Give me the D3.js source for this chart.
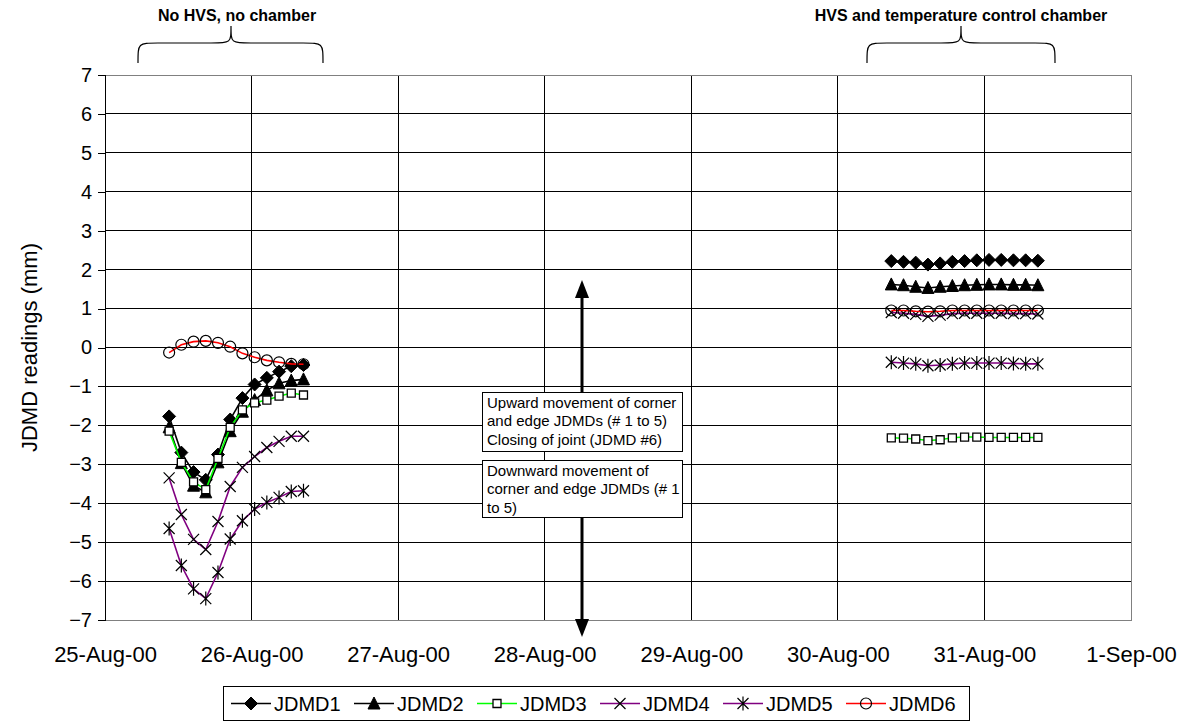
<!DOCTYPE html>
<html><head><meta charset="utf-8">
<script src="https://cdn.jsdelivr.net/npm/d3@7"></script>
<style>body{margin:0;background:#fff} svg{display:block;font-family:Arial,"Liberation Sans",sans-serif}</style>
</head><body><svg id="c" width="1186" height="721"></svg>
<script>
// ---------- data ----------
const tickDates = ["2000-08-25","2000-08-26","2000-08-27","2000-08-28","2000-08-29","2000-08-30","2000-08-31","2000-09-01"];
const tickLabels = ["25-Aug-00","26-Aug-00","27-Aug-00","28-Aug-00","29-Aug-00","30-Aug-00","31-Aug-00","1-Sep-00"];
const yTicks = [-7,-6,-5,-4,-3,-2,-1,0,1,2,3,4,5,6,7];
const leftTimes = ["2000-08-25 10:30","2000-08-25 12:30","2000-08-25 14:30","2000-08-25 16:30","2000-08-25 18:30","2000-08-25 20:30",
                   "2000-08-25 22:30","2000-08-26 00:30","2000-08-26 02:30","2000-08-26 04:30","2000-08-26 06:30","2000-08-26 08:30"];
const rightTimes = ["2000-08-30 08:45","2000-08-30 10:45","2000-08-30 12:45","2000-08-30 14:45","2000-08-30 16:45","2000-08-30 18:45",
                    "2000-08-30 20:45","2000-08-30 22:45","2000-08-31 00:45","2000-08-31 02:45","2000-08-31 04:45","2000-08-31 06:45","2000-08-31 08:45"];
const seriesNames = ["JDMD1","JDMD2","JDMD3","JDMD4","JDMD5","JDMD6"];
const jdmd1Left  = [-1.77,-2.7,-3.2,-3.4,-2.75,-1.85,-1.3,-0.95,-0.78,-0.62,-0.48,-0.45];
const jdmd2Left  = [-2.05,-2.97,-3.55,-3.72,-2.95,-2.15,-1.65,-1.35,-1.1,-0.92,-0.85,-0.82];
const jdmd3Left  = [-2.15,-2.95,-3.45,-3.65,-2.85,-2.05,-1.6,-1.42,-1.35,-1.25,-1.17,-1.22];
const jdmd4Left  = [-3.35,-4.29,-4.93,-5.19,-4.47,-3.57,-3.08,-2.8,-2.57,-2.41,-2.28,-2.28];
const jdmd5Left  = [-4.65,-5.6,-6.2,-6.45,-5.78,-4.92,-4.45,-4.15,-3.98,-3.85,-3.7,-3.68];
const jdmd6Left  = [-0.13,0.07,0.15,0.17,0.12,0.02,-0.15,-0.25,-0.33,-0.38,-0.42,-0.43];
const jdmd1Right = [2.22,2.2,2.18,2.13,2.16,2.2,2.22,2.24,2.25,2.25,2.24,2.24,2.23];
const jdmd2Right = [1.62,1.6,1.56,1.53,1.56,1.58,1.6,1.61,1.62,1.62,1.61,1.61,1.6];
const jdmd3Right = [-2.32,-2.33,-2.35,-2.39,-2.37,-2.32,-2.3,-2.3,-2.31,-2.31,-2.31,-2.31,-2.31];
const jdmd4Right = [0.9,0.88,0.85,0.8,0.83,0.87,0.88,0.88,0.88,0.88,0.87,0.87,0.86];
const jdmd5Right = [-0.38,-0.4,-0.42,-0.47,-0.45,-0.42,-0.4,-0.4,-0.4,-0.4,-0.41,-0.42,-0.42];
const jdmd6Right = [0.95,0.95,0.93,0.92,0.93,0.95,0.95,0.95,0.95,0.95,0.95,0.95,0.95];

// ---------- setup ----------
const svg = d3.select("#c");
const parseT = d3.timeParse("%Y-%m-%d %H:%M");
const parseD = d3.timeParse("%Y-%m-%d");
const L = 105, R = 1131, T = 75, B = 620;
const x = d3.scaleTime().domain([parseD(tickDates[0]), parseD(tickDates[tickDates.length-1])]).range([L, R]);
const y = d3.scaleLinear().domain([-7, 7]).range([B, T]);

svg.append("rect").attr("width",1186).attr("height",721).attr("fill","#fff");

// gridlines
const g = svg.append("g").attr("shape-rendering","crispEdges");
g.selectAll(".hg").data(yTicks.filter(v=>v>-7 && v<7)).join("line")
  .attr("x1",L).attr("x2",R).attr("y1",d=>y(d)).attr("y2",d=>y(d)).attr("stroke","#000").attr("stroke-width",1);
g.selectAll(".vg").data(tickDates.slice(1,-1)).join("line")
  .attr("x1",d=>x(parseD(d))).attr("x2",d=>x(parseD(d))).attr("y1",T).attr("y2",B).attr("stroke","#000").attr("stroke-width",1);
g.append("rect").attr("x",L).attr("y",T).attr("width",R-L).attr("height",B-T).attr("fill","none").attr("stroke","#808080");

// y axis
const ya = svg.append("g").attr("transform",`translate(${L},0)`)
  .call(d3.axisLeft(y).tickValues(yTicks).tickSize(7).tickPadding(6).tickFormat(d3.format("d")));
ya.select(".domain").attr("stroke","#000").attr("shape-rendering","crispEdges");
ya.selectAll(".tick line").attr("stroke","#000").attr("shape-rendering","crispEdges");
ya.selectAll("text").attr("font-size",20).attr("fill","#000").attr("font-family","Arial,'Liberation Sans',sans-serif");

// x axis
const xa = svg.append("g").attr("transform",`translate(0,${B})`)
  .call(d3.axisBottom(x).tickValues(tickDates.map(parseD)).tickSize(0).tickPadding(26)
        .tickFormat((d,i)=>tickLabels[i]));
xa.select(".domain").attr("stroke","#808080").attr("shape-rendering","crispEdges");
xa.selectAll("text").attr("font-size",22).attr("fill","#000").attr("font-family","Arial,'Liberation Sans',sans-serif");

svg.append("text").attr("transform",`translate(37,${y(0)}) rotate(-90)`).attr("text-anchor","middle")
  .attr("font-size",22).text("JDMD readings (mm)");

// markers
const markerPath = {
  JDMD1: "M0,-6.5L6.5,0L0,6.5L-6.5,0Z",
  JDMD2: "M0,-6.5L6,5.5L-6,5.5Z",
  JDMD3: "M-4,-4H4V4H-4Z",
  JDMD4: "M-5.5,-5.5L5.5,5.5M-5.5,5.5L5.5,-5.5",
  JDMD5: "M-5.5,-5.5L5.5,5.5M-5.5,5.5L5.5,-5.5M0,-7V7",
  JDMD6: d3.symbol(d3.symbolCircle, Math.PI*5.5*5.5)()
};
const markerStyle = {
  JDMD1: {fill:"#000", stroke:"#000", sw:1},
  JDMD2: {fill:"#000", stroke:"#000", sw:1},
  JDMD3: {fill:"#fff", stroke:"#000", sw:1.3},
  JDMD4: {fill:"none", stroke:"#000", sw:1.2},
  JDMD5: {fill:"none", stroke:"#000", sw:1.2},
  JDMD6: {fill:"none", stroke:"#000", sw:1.2}
};
const lineColor = {JDMD1:"#000",JDMD2:"#000",JDMD3:"#00ff00",JDMD4:"#800080",JDMD5:"#800080",JDMD6:"#ff0000"};

const seriesData = [
  [jdmd1Left, jdmd1Right],[jdmd2Left, jdmd2Right],[jdmd3Left, jdmd3Right],
  [jdmd4Left, jdmd4Right],[jdmd5Left, jdmd5Right],[jdmd6Left, jdmd6Right]
];
const line = d3.line().x(d=>x(d.t)).y(d=>y(d.v));
seriesNames.forEach((name, si) => {
  const sg = svg.append("g");
  const segs = [
    leftTimes.map((t,i)=>({t:parseT(t), v:seriesData[si][0][i]})),
    rightTimes.map((t,i)=>({t:parseT(t), v:seriesData[si][1][i]}))
  ];
  segs.forEach(seg => {
    sg.append("path").attr("d", line(seg)).attr("fill","none").attr("stroke",lineColor[name]).attr("stroke-width",1.6);
  });
  segs.forEach(seg => {
    sg.selectAll(null).data(seg).join("path")
      .attr("transform", d=>`translate(${x(d.t)},${y(d.v)})`)
      .attr("d", markerPath[name]).attr("fill", markerStyle[name].fill)
      .attr("stroke", markerStyle[name].stroke).attr("stroke-width", markerStyle[name].sw);
  });
});

// annotation boxes + arrows
const ax = 582;
function arrow(x0, y0, y1) {
  const dir = Math.sign(y1 - y0);
  svg.append("line").attr("x1",x0).attr("x2",x0).attr("y1",y0).attr("y2",y1 - dir*14).attr("stroke","#000").attr("stroke-width",3);
  svg.append("path").attr("d",`M${x0},${y1}L${x0-7},${y1-dir*18}L${x0+7},${y1-dir*18}Z`).attr("fill","#000");
}
arrow(ax, 392, 280);
arrow(ax, 517, 637);
const boxes = [
  {x:482, y:392, w:200, h:59, lines:["Upward movement of corner","and edge JDMDs (# 1 to 5)","Closing of joint (JDMD #6)"]},
  {x:482, y:460, w:200, h:57, lines:["Downward movement of","corner and edge JDMDs (# 1","to 5)"]}
];
boxes.forEach(b => {
  svg.append("rect").attr("x",b.x+0.5).attr("y",b.y+0.5).attr("width",b.w).attr("height",b.h)
    .attr("fill","#fff").attr("stroke","#000").attr("stroke-width",1);
  b.lines.forEach((t,i)=>svg.append("text").attr("x",b.x+5).attr("y",b.y+16+i*18.3).attr("font-size",15).text(t));
});

// braces
function brace(x0, x1, xm, yTop, yMid, yEnd) {
  const r = 20;
  const d = `M${x0},${yEnd} C${x0},${yMid} ${x0},${yMid} ${x0+r},${yMid} L${xm-r},${yMid} C${xm},${yMid} ${xm},${yMid} ${xm},${yTop}` +
            ` C${xm},${yMid} ${xm},${yMid} ${xm+r},${yMid} L${x1-r},${yMid} C${x1},${yMid} ${x1},${yMid} ${x1},${yEnd}`;
  svg.append("path").attr("d",d).attr("fill","none").attr("stroke","#000").attr("stroke-width",1.2);
}
brace(138, 323, 231, 26, 43, 63);
brace(867, 1055, 961, 26, 43, 63);
svg.append("text").attr("x",237).attr("y",21).attr("text-anchor","middle").attr("font-size",16).attr("font-weight","bold").text("No HVS, no chamber");
svg.append("text").attr("x",961).attr("y",21).attr("text-anchor","middle").attr("font-size",16).attr("font-weight","bold").text("HVS and temperature control chamber");

// legend
const lgX = 223, lgY = 686, lgH = 34, entryW = 123;
const lg = svg.append("g");
lg.append("rect").attr("x",lgX+0.5).attr("y",lgY+0.5).attr("width",entryW*seriesNames.length+8).attr("height",lgH)
  .attr("fill","#fff").attr("stroke","#000");
seriesNames.forEach((name,i)=>{
  const ex = lgX + 8 + i*entryW, ey = lgY + lgH/2 + 0.5;
  lg.append("line").attr("x1",ex).attr("x2",ex+40).attr("y1",ey).attr("y2",ey).attr("stroke",lineColor[name]).attr("stroke-width",1.6);
  lg.append("path").attr("transform",`translate(${ex+20},${ey})`).attr("d",markerPath[name])
    .attr("fill",markerStyle[name].fill).attr("stroke",markerStyle[name].stroke).attr("stroke-width",markerStyle[name].sw);
  lg.append("text").attr("x",ex+43).attr("y",ey+7).attr("font-size",20).text(name);
});
</script></body></html>
